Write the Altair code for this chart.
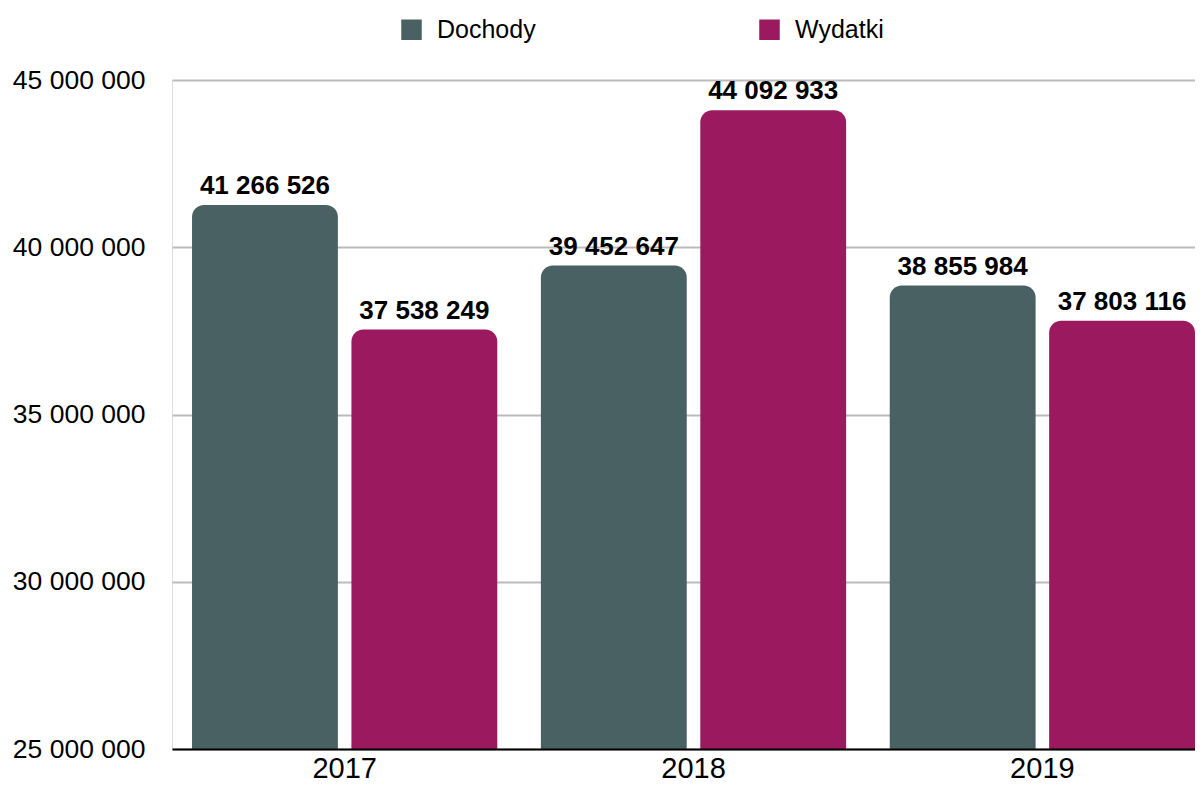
import altair as alt
import pandas as pd

years = ["2017", "2018", "2019"]
series = ["Dochody", "Wydatki"]
dochody = [41266526, 39452647, 38855984]
wydatki = [37538249, 44092933, 37803116]
y_ticks = [25000000, 30000000, 35000000, 40000000, 45000000]
colors = ["#4a6163", "#9b195e"]

rows = []
for i, yr in enumerate(years):
    rows.append({"year": yr, "series": "Dochody", "value": dochody[i]})
    rows.append({"year": yr, "series": "Wydatki", "value": wydatki[i]})
df = pd.DataFrame(rows)
df["label"] = df["value"].map(lambda v: f"{v:,d}".replace(",", " "))

FONT = "Liberation Sans"

base = alt.Chart(df).encode(
    x=alt.X(
        "year:N",
        sort=years,
        scale=alt.Scale(paddingInner=0.125, paddingOuter=0.0287, align=1),
        axis=alt.Axis(title=None, labelAngle=0, labelFontSize=29, labelColor="black",
                      ticks=False, labelPadding=5, domainColor="black", domainWidth=2,
                      grid=False, zindex=2),
    ),
    xOffset=alt.XOffset("series:N", sort=series,
                        scale=alt.Scale(paddingInner=0.085, paddingOuter=0)),
)

bars = base.mark_bar(cornerRadiusTopLeft=12, cornerRadiusTopRight=12).encode(
    y=alt.Y(
        "value:Q",
        scale=alt.Scale(domain=[25000000, 45000000], zero=False, nice=False),
        axis=alt.Axis(values=y_ticks, title=None, labelFontSize=26.5, labelColor="black",
                      domain=False, ticks=False, labelPadding=27,
                      gridColor="#bbbbbb", gridWidth=2,
                      labelExpr="replace(replace(format(datum.value, ',d'), ',', ' '), ',', ' ')"),
    ),
    y2=alt.datum(25000000),
    color=alt.Color(
        "series:N",
        sort=series,
        scale=alt.Scale(domain=series, range=colors),
        legend=alt.Legend(title=None, orient="none", legendX=227, legendY=-63,
                          direction="horizontal", labelFontSize=25, labelColor="black",
                          symbolType="square", symbolSize=420, symbolStrokeWidth=0,
                          labelOffset=13, columnPadding=221, padding=0),
    ),
)

text = base.mark_text(fontSize=26, fontWeight="bold", dy=-11, baseline="alphabetic",
                      color="black").encode(
    y=alt.Y("value:Q"),
    text="label:N",
)

chart = alt.layer(bars, text).properties(
    width=1023, height=669,
    autosize=alt.AutoSizeParams(type="none"),
    padding={"left": 164, "top": 72, "right": 0, "bottom": 34},
).configure_view(stroke=None).configure(font=FONT)

chart.save("out.html", embed_options={"renderer": "svg", "actions": False})
